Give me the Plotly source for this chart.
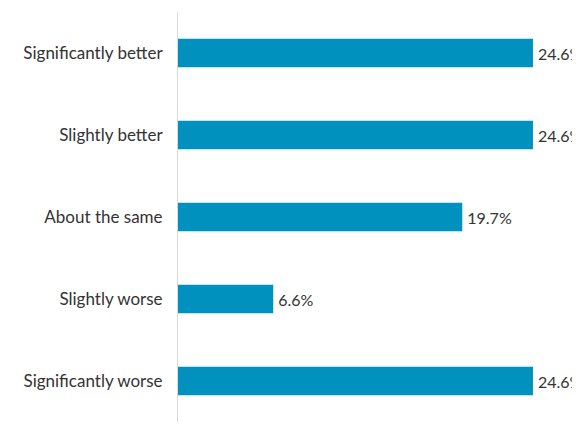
import plotly.graph_objects as go

categories = ["Significantly better", "Slightly better", "About the same",
              "Slightly worse", "Significantly worse"]
values = [24.6, 24.6, 19.7, 6.6, 24.6]
labels = [f"\u2009{v:.1f}%" for v in values]

fig = go.Figure(go.Bar(
    x=values,
    y=categories,
    orientation="h",
    text=labels,
    textposition="outside",
    constraintext="none",
    cliponaxis=False,
    marker=dict(color="#0091bf", line=dict(width=0)),
    width=0.35,
    textfont=dict(size=16, color="#333333"),
))

# page body has an 8px margin, so the figure is sized to fit inside the window
fig.update_layout(
    width=572,
    height=419,
    margin=dict(l=170, r=0, t=4, b=5),
    paper_bgcolor="white",
    plot_bgcolor="white",
    font=dict(family="Lato", size=17, color="#333333"),
    showlegend=False,
)
fig.update_xaxes(range=[0, 27.86], visible=False, fixedrange=True)
fig.update_yaxes(
    autorange="reversed",
    showline=True,
    linecolor="#d9d9d9",
    linewidth=1,
    showgrid=False,
    ticks="",
    ticklabelstandoff=11,
    fixedrange=True,
)

fig.write_html("out.html")
